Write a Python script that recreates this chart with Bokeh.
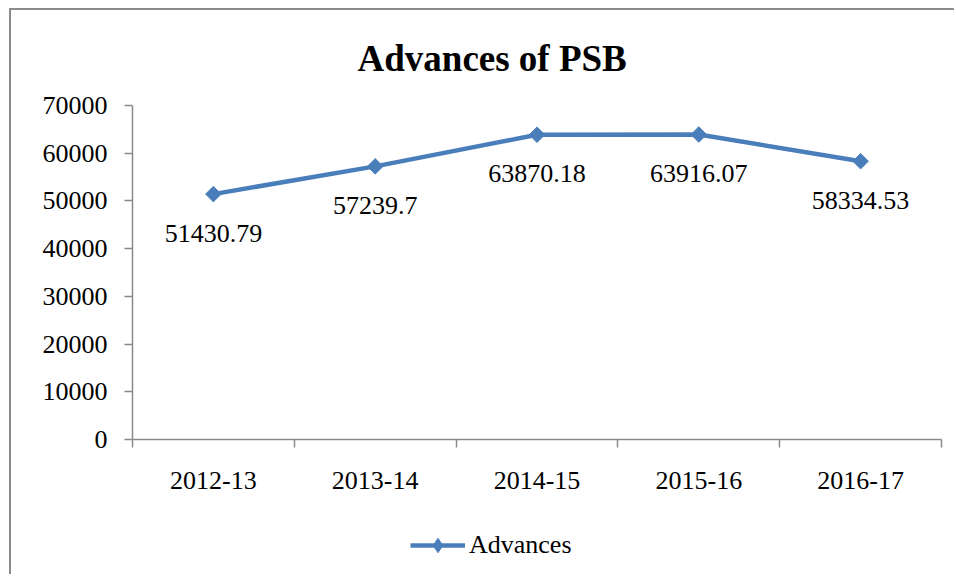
import math
from bokeh.plotting import figure
from bokeh.layouts import column, row
from bokeh.models import (Range1d, FixedTicker, LabelSet, ColumnDataSource,
                          Legend, LegendItem, Spacer)
from bokeh.embed import file_html
from bokeh.resources import INLINE
from bokeh.core.properties import value

# ---- data ----
categories = ["2012-13", "2013-14", "2014-15", "2015-16", "2016-17"]
advances = [51430.79, 57239.7, 63870.18, 63916.07, 58334.53]
data_labels = ["51430.79", "57239.7", "63870.18", "63916.07", "58334.53"]
y_ticks = [0, 10000, 20000, 30000, 40000, 50000, 60000, 70000]
series_name = "Advances"
title_text = "Advances of PSB"

# ---- style ----
BLUE = "#4A7EBB"
AXIS = "#8A8A8A"
BORDER = "2px solid #8C8C8C"
FONT = "Liberation Serif"
FS = "26px"

xs = [i + 0.5 for i in range(len(categories))]
src = ColumnDataSource(dict(x=xs, y=advances, label=data_labels))

p = figure(width=945, height=510, output_backend="svg", toolbar_location=None,
           x_range=Range1d(0, len(categories)), y_range=Range1d(0, y_ticks[-1]),
           min_border_left=121, min_border_right=15, min_border_top=95,
           min_border_bottom=81)
p.styles = {"border-left": BORDER, "border-top": BORDER}

p.background_fill_color = "white"
p.border_fill_color = "white"
p.outline_line_color = None
p.xgrid.visible = False
p.ygrid.visible = False

# title
p.title.text = title_text
p.title.align = "left"
p.title.offset = 225
p.title.vertical_align = "top"
p.title.text_font = FONT
p.title.text_font_size = "37px"
p.title.text_font_style = "bold"
p.title.text_color = "black"
p.title.standoff = 49

# y axis
p.yaxis.ticker = FixedTicker(ticks=y_ticks)
p.yaxis.axis_line_color = AXIS
p.yaxis.axis_line_width = 1.5
p.yaxis.major_tick_line_color = AXIS
p.yaxis.major_tick_line_width = 1.5
p.yaxis.major_tick_out = 8
p.yaxis.major_tick_in = 0
p.yaxis.minor_tick_line_color = None
p.yaxis.major_label_standoff = 17
p.yaxis.major_label_text_font = FONT
p.yaxis.major_label_text_font_size = FS
p.yaxis.major_label_text_color = "black"

# x axis (category labels at centres, ticks at boundaries)
p.xaxis.ticker = FixedTicker(ticks=xs, minor_ticks=list(range(len(categories) + 1)))
p.xaxis.major_label_overrides = {x: c for x, c in zip(xs, categories)}
p.xaxis.axis_line_color = AXIS
p.xaxis.axis_line_width = 1.5
p.xaxis.major_tick_line_color = None
p.xaxis.major_tick_out = 8
p.xaxis.major_tick_in = 0
p.xaxis.minor_tick_line_color = AXIS
p.xaxis.minor_tick_line_width = 1.5
p.xaxis.minor_tick_out = 8
p.xaxis.minor_tick_in = 0
p.xaxis.major_label_standoff = 24
p.xaxis.major_label_text_font = FONT
p.xaxis.major_label_text_font_size = FS
p.xaxis.major_label_text_color = "black"

# series
line_kw = dict(line_color=BLUE, line_width=4.5)
p.line("x", "y", source=src, **line_kw)
p.scatter("x", "y", source=src, marker="square", angle=math.pi / 4, size=11,
          fill_color=BLUE, line_color=BLUE)

labels = LabelSet(x="x", y="y", text="label", source=src, text_align="center",
                  text_baseline="middle", y_offset=-39,
                  text_font=value(FONT), text_font_size=FS, text_color="black")
p.add_layout(labels)

# legend strip (separate figure below the chart, same frame border);
# its glyphs reuse the series data, which lies outside this strip's ranges
pl = figure(width=945, height=56, output_backend="svg", toolbar_location=None,
            x_range=Range1d(-2, -1), y_range=Range1d(-2, -1),
            min_border=0, x_axis_location=None, y_axis_location=None)
pl.styles = {"border-left": BORDER}
pl.outline_line_color = None
pl.xgrid.visible = False
pl.ygrid.visible = False
lg_line = pl.line("x", "y", source=src, **line_kw)
lg_pts = pl.scatter("x", "y", source=src, marker="diamond", size=16,
                    fill_color=BLUE, line_color=BLUE)
legend = Legend(items=[LegendItem(label=series_name, renderers=[lg_line, lg_pts])],
                location=(278, 11), orientation="horizontal",
                glyph_width=55, glyph_height=36, label_standoff=4,
                padding=0, margin=0, border_line_color=None,
                background_fill_alpha=0,
                label_text_font=FONT, label_text_font_size=FS,
                label_text_color="black")
pl.add_layout(legend)

layout = column(Spacer(height=8), row(Spacer(width=9), column(p, pl, spacing=0)))
open("out.html", "w").write(file_html(layout, INLINE))
